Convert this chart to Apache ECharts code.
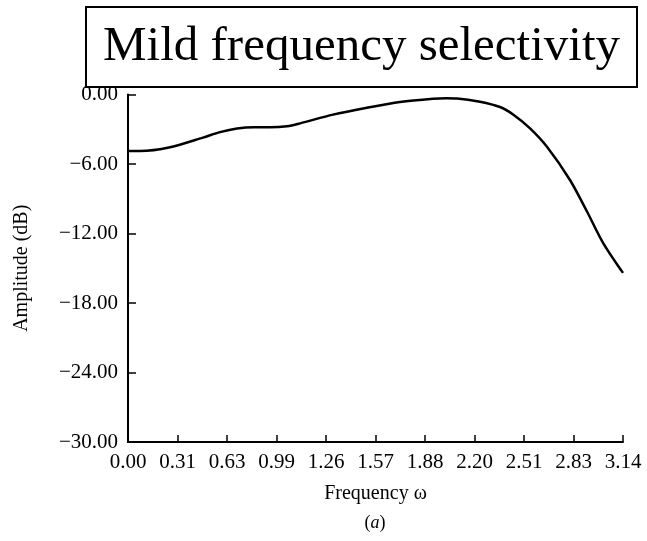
<!DOCTYPE html>
<html>
<head>
<meta charset="utf-8">
<script src="https://cdn.jsdelivr.net/npm/echarts@6/dist/echarts.min.js"></script>
<style>
  html, body { margin: 0; padding: 0; background: #fff; }
  #main { width: 647px; height: 541px; }
</style>
</head>
<body>
<div id="main"></div>
<script>
// values (frequency in rad, amplitude in dB)
var freq = [0, 0.076, 0.267, 0.476, 0.584, 0.692, 0.80, 0.901, 1.009, 1.092, 1.301, 1.517, 1.726, 1.936, 2.02, 2.088, 2.234, 2.361, 2.444, 2.55, 2.659, 2.805, 2.913, 3.015, 3.1416];
var amp  = [-4.88, -4.88, -4.55, -3.72, -3.25, -2.93, -2.82, -2.83, -2.74, -2.49, -1.74, -1.14, -0.64, -0.36, -0.32, -0.34, -0.62, -1.08, -1.72, -2.9, -4.51, -7.38, -10.1, -12.8, -15.4];
var xTickLabels = ['0.00', '0.31', '0.63', '0.99', '1.26', '1.57', '1.88', '2.20', '2.51', '2.83', '3.14'];
var yTickLabels = ['0.00', '\u22126.00', '\u221212.00', '\u221218.00', '\u221224.00', '\u221230.00'];

var serif = '"Liberation Serif", "DejaVu Serif", serif';
var step = Math.PI / 10;

var myChart = echarts.init(document.getElementById('main'));
var option = {
    backgroundColor: '#fff',
    animation: false,
    title: {
        text: 'Mild frequency selectivity',
        left: 86,
        top: 7,
        padding: [15, 17, 15, 17],
        borderColor: '#000',
        borderWidth: 2,
        textStyle: {
            fontFamily: serif,
            fontWeight: 'normal',
            fontSize: 49,
            lineHeight: 50,
            color: '#000'
        }
    },
    grid: {
        left: 128,
        right: 24,
        top: 94.5,
        bottom: 99
    },
    xAxis: {
        type: 'value',
        min: 0,
        max: Math.PI,
        interval: step,
        name: 'Frequency \u03c9',
        nameLocation: 'middle',
        nameGap: 42,
        nameTextStyle: { fontFamily: serif, fontSize: 20, color: '#000' },
        axisLine: { onZero: false, lineStyle: { color: '#000', width: 2 } },
        axisTick: { inside: true, length: 7, lineStyle: { color: '#000', width: 1.5 } },
        splitLine: { show: false },
        axisLabel: {
            margin: 10,
            fontFamily: serif,
            fontSize: 21,
            color: '#000',
            formatter: function (v) {
                return xTickLabels[Math.round(v / step)];
            }
        }
    },
    yAxis: {
        type: 'value',
        min: -30,
        max: 0,
        interval: 6,
        name: 'Amplitude (dB)',
        nameLocation: 'middle',
        nameRotate: 90,
        nameGap: 96,
        nameTextStyle: { fontFamily: serif, fontSize: 20, color: '#000' },
        axisLine: { onZero: false, lineStyle: { color: '#000', width: 2 } },
        axisTick: { inside: true, length: 8, lineStyle: { color: '#000', width: 1.5 } },
        splitLine: { show: false },
        axisLabel: {
            margin: 10,
            fontFamily: serif,
            fontSize: 21,
            color: '#000',
            formatter: function (v) {
                return yTickLabels[Math.round(-v / 6)];
            }
        }
    },
    graphic: [{
        type: 'text',
        x: 375,
        y: 523,
        style: {
            text: '({i|a})',
            align: 'center',
            verticalAlign: 'middle',
            font: '18px ' + serif,
            fill: '#000',
            rich: {
                i: { fontStyle: 'italic', fontSize: 18, fontFamily: serif, fill: '#000' }
            }
        }
    }],
    series: [{
        type: 'line',
        data: freq.map(function (f, i) { return [f, amp[i]]; }),
        smooth: 0.3,
        showSymbol: false,
        lineStyle: { color: '#000', width: 2.5 }
    }]
};
myChart.setOption(option);
</script>
</body>
</html>
